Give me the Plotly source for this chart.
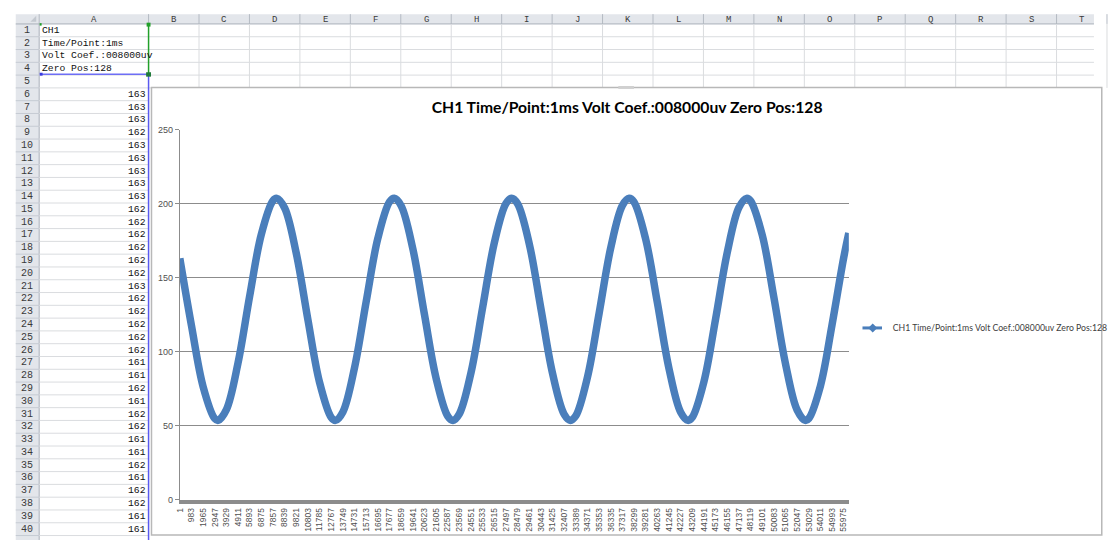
import plotly.graph_objects as go

W, H = 1113, 543

# ---------------- spreadsheet content ----------------
col_letters = ["A", "B", "C", "D", "E", "F", "G", "H", "I", "J",
               "K", "L", "M", "N", "O", "P", "Q", "R", "S", "T"]
info_cells = ["CH1", "Time/Point:1ms", "Volt Coef.:008000uv", "Zero Pos:128"]
col_a_values = [163, 163, 163, 162, 163, 163, 163, 163, 163,
                162, 162, 162, 162, 162, 162, 163,
                162, 162, 162, 162, 162, 161, 161, 162, 161,
                162, 162, 161, 161, 162, 161, 162, 162, 161, 161]
row_numbers = list(range(1, 41))

# ---------------- chart content ----------------
chart_title = "CH1 Time/Point:1ms Volt Coef.:008000uv Zero Pos:128"
sample_index = [1, 983, 1965, 2947, 3229, 3929, 4911, 5893, 6875, 7857, 8177,
                8839, 9821, 10803, 11785, 12767, 13130, 13749, 14731, 15713,
                16695, 17677, 18078, 18659, 19641, 20623, 21605, 22587, 23032,
                23569, 24551, 25533, 26515, 27497, 27980, 28479, 29461, 30443,
                31425, 32407, 32933, 33389, 34371, 35353, 36335, 37317, 37882,
                38299, 39281, 40263, 41245, 42227, 42835, 43209, 44191, 45173,
                46155, 47137, 47783, 48119, 49101, 50083, 51065, 52047, 52735,
                53029, 54011, 54993, 55975, 56404]
sample_value = [163.0, 117.6, 76.4, 54.8, 53.6, 60.9, 92.5, 137.7, 179.4, 202.1, 203.6,
                197.1, 166.4, 121.5, 79.2, 55.6, 53.6, 59.3, 89.2, 133.8,
                176.5, 201.2, 203.6, 198.6, 169.7, 125.3, 82.2, 56.5, 53.6,
                58.0, 85.9, 129.9, 173.5, 200.1, 203.6, 199.9, 172.9, 129.2,
                85.3, 57.7, 53.6, 56.7, 82.8, 126.0, 170.3, 198.8, 203.6,
                201.0, 175.9, 133.1, 88.5, 59.1, 53.6, 55.7, 79.8, 122.2,
                167.0, 197.4, 203.6, 201.9, 178.9, 136.9, 91.9, 60.6, 53.6,
                54.9, 76.9, 118.3, 163.6, 180.2]
x_tick_labels = [1, 983, 1965, 2947, 3929, 4911, 5893, 6875, 7857, 8839, 9821,
                 10803, 11785, 12767, 13749, 14731, 15713, 16695, 17677, 18659,
                 19641, 20623, 21605, 22587, 23569, 24551, 25533, 26515, 27497,
                 28479, 29461, 30443, 31425, 32407, 33389, 34371, 35353, 36335,
                 37317, 38299, 39281, 40263, 41245, 42227, 43209, 44191, 45173,
                 46155, 47137, 48119, 49101, 50083, 51065, 52047, 53029, 54011,
                 54993, 55975]
n_points = 56404
y_ticks = [0, 50, 100, 150, 200, 250]

SERIES_COLOR = "#4A7EBB"


def fx(p):
    return p / W


def fy(p):
    return 1 - p / H


shapes = []
annotations = []


def line(x0, y0, x1, y1, color, width=1):
    shapes.append(dict(type="line", xref="paper", yref="paper", layer="below",
                       x0=fx(x0), y0=fy(y0), x1=fx(x1), y1=fy(y1),
                       line=dict(color=color, width=width)))


def rect(x0, y0, x1, y1, fill, lc=None, lw=0):
    shapes.append(dict(type="rect", xref="paper", yref="paper", layer="below",
                       x0=fx(x0), y0=fy(y0), x1=fx(x1), y1=fy(y1),
                       fillcolor=fill, line=dict(color=lc or fill, width=lw)))


def text(x, y, s, anchor="center", size=10, color="#222222", family="Liberation Mono"):
    annotations.append(dict(x=fx(x), y=fy(y), xref="paper", yref="paper", text=s,
                            showarrow=False, xanchor=anchor, yanchor="middle",
                            font=dict(family=family, size=size, color=color)))


# geometry of the sheet
HDR_T, HDR_B = 9.3, 19.3
ROW_H = 13.03
RN_L, RN_R = 11, 35
COL_A_R = 147
COL_W = 51.65
CHART_L, CHART_T = 150, 84

# header bar and row-number column
rect(RN_L, HDR_T, W + 2, HDR_B, "#E3E6EB")
rect(RN_L, HDR_B, RN_R, H + 2, "#E3E6EB")
shapes.append(dict(type="path", xref="paper", yref="paper", layer="below",
                   path=f"M {fx(32)} {fy(11)} L {fx(32)} {fy(17)} L {fx(26)} {fy(17)} Z",
                   fillcolor="#C3C8CF", line=dict(width=0)))

col_edges = [RN_R, COL_A_R] + [COL_A_R + COL_W * k for k in range(1, 20)]
for xe in col_edges:
    line(xe, HDR_T, xe, HDR_B, "#B4BAC3")
line(RN_L, HDR_B, W + 2, HDR_B, "#A9B0BA")
line(RN_R, HDR_B, RN_R, H + 2, "#A9B0BA")

# cell grid
for r in range(1, 41):
    yb = HDR_B + ROW_H * r
    line(RN_L, yb, RN_R, yb, "#C6CBD3")
    if r <= 5:
        line(RN_R, yb, W + 2, yb, "#DADCDF")
    else:
        line(RN_R, yb, COL_A_R, yb, "#DADCDF")
for xe in col_edges[2:]:
    line(xe, HDR_B, xe, HDR_B + ROW_H * 5, "#DADCDF")

# column letters
for i, c in enumerate(col_letters):
    if i == 0:
        cx = (RN_R + COL_A_R) / 2
    else:
        cx = COL_A_R + COL_W * (i - 0.5)
    text(cx, (HDR_T + HDR_B) / 2 + 0.5, c, size=9, color="#3A3A3A")

# row numbers
for r in row_numbers:
    text((RN_L + RN_R) / 2, HDR_B + ROW_H * (r - 0.5), str(r), size=10, color="#3A3A3A")

# cell texts
for r, s in enumerate(info_cells, start=1):
    text(36, HDR_B + ROW_H * (r - 0.5), s, anchor="left", size=9.7, color="#111111")
for r, v in enumerate(col_a_values, start=6):
    text(146, HDR_B + ROW_H * (r - 0.5), str(v), anchor="right", size=9.7, color="#111111")

# range highlight
line(COL_A_R, HDR_B, COL_A_R, 70.5, "#22A02A", 1.5)
line(RN_R + 1, 70.5, COL_A_R, 70.5, "#6E6EF5", 1.5)
line(COL_A_R, 70.5, COL_A_R, H + 2, "#5A5AF0", 1.5)
rect(145, 18, 149, 22, "#22A02A")
rect(144.5, 68.5, 149.5, 73, "#1F7A3A")
rect(35.5, 69, 38.5, 72, "#3B3BE0")
rect(35.5, 18.5, 37.5, 21, "#22A02A")

# chart area
rect(CHART_L, CHART_T, W + 10, 540, "#FFFFFF", "#B8B8B8", 1.5)
rect(628, 82.5, 644, 85.5, "#D0D0D0")
# legend key line (marker comes from the legend itself)
line(878, 329, 898, 329, SERIES_COLOR, 3)

fig = go.Figure()
fig.add_trace(go.Scatter(x=sample_index, y=sample_value, mode="lines",
                         line=dict(color=SERIES_COLOR, width=7.5, shape="spline", smoothing=1.0),
                         name=chart_title, showlegend=False, hoverinfo="skip"))
fig.add_trace(go.Scatter(x=[None], y=[None], mode="markers",
                         marker=dict(symbol="diamond", size=7, color=SERIES_COLOR),
                         name=chart_title, showlegend=True))

fig.update_layout(
    width=W, height=H, margin=dict(l=0, r=0, t=0, b=0),
    paper_bgcolor="#FFFFFF", plot_bgcolor="rgba(0,0,0,0)",
    shapes=shapes, annotations=annotations,
    title=dict(text=chart_title, x=637 / W, y=fy(104), xref="paper", yref="paper",
               xanchor="center", yanchor="middle",
               font=dict(family="Lato", size=15.7, color="#000000", weight="bold")),
    xaxis=dict(domain=[179 / W, 864 / W], range=[1, n_points],
               tickmode="array", tickvals=x_tick_labels,
               ticktext=[str(v) for v in x_tick_labels], tickangle=-90,
               tickfont=dict(family="Liberation Sans", size=8.5, color="#505050"),
               showgrid=False, zeroline=False, showline=True,
               linecolor="#8C8C8C", linewidth=4, ticks="", ticklabelstandoff=1),
    yaxis=dict(domain=[fy(504), fy(127)], range=[0, 250], tickmode="array",
               tickvals=y_ticks, ticktext=[str(v) for v in y_ticks],
               tickfont=dict(family="Liberation Sans", size=9, color="#505050"),
               showgrid=True, gridcolor="#8C8C8C", gridwidth=1, zeroline=False,
               showline=True, linecolor="#8C8C8C", linewidth=1,
               ticks="outside", ticklen=4, tickcolor="#8C8C8C"),
    legend=dict(x=fx(868), y=fy(329), xanchor="left", yanchor="middle",
                bgcolor="rgba(0,0,0,0)", borderwidth=0, itemwidth=30,
                font=dict(family="Lato", size=8.7, color="#404040")),
    hovermode=False,
)

fig.write_html("out.html", post_script="document.body.style.margin='0';",
               config={"displayModeBar": False})
